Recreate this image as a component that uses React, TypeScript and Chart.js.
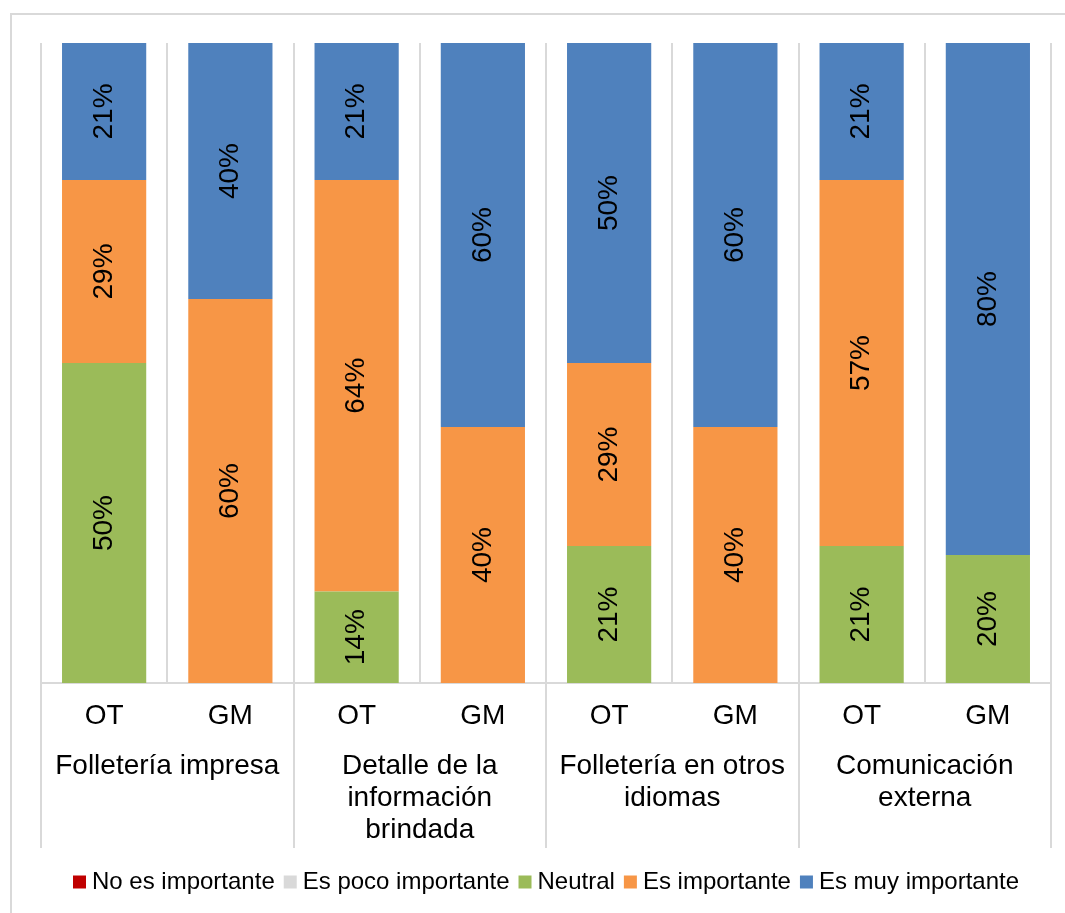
import React, { useEffect, useRef } from 'react';
import { Chart, registerables } from 'chart.js';

Chart.register(...registerables);

// Respondent group under each bar, and the aspect each pair of bars belongs to
const respondents = ['OT', 'GM', 'OT', 'GM', 'OT', 'GM', 'OT', 'GM'];
const aspects = [
  ['Folletería impresa'],
  ['Detalle de la', 'información', 'brindada'],
  ['Folletería en otros', 'idiomas'],
  ['Comunicación', 'externa'],
];

// Share of answers (%) per bar, one array per answer level
const seriesNames = ['No es importante', 'Es poco importante', 'Neutral', 'Es importante', 'Es muy importante'];
const noImportante = [0, 0, 0, 0, 0, 0, 0, 0];
const pocoImportante = [0, 0, 0, 0, 0, 0, 0, 0];
const neutral = [50, 0, 14.3, 0, 21.4, 0, 21.4, 20];
const importante = [28.6, 60, 64.3, 40, 28.6, 40, 57.2, 0];
const muyImportante = [21.4, 40, 21.4, 60, 50, 60, 21.4, 80];
const seriesColors = ['#C00000', '#D9D9D9', '#9BBB59', '#F79646', '#4F81BD'];

const FONT = "'Liberation Sans', Arial, sans-serif";
const LINE = '#D9D9D9';

// Rotated percentage labels in the middle of every non-empty segment
const segmentLabels = {
  id: 'segmentLabels',
  afterDatasetsDraw(chart: any) {
    const ctx = chart.ctx;
    ctx.save();
    ctx.font = `28px ${FONT}`;
    ctx.fillStyle = '#000000';
    ctx.textAlign = 'center';
    ctx.textBaseline = 'middle';
    chart.data.datasets.forEach((ds: any, i: number) => {
      const meta = chart.getDatasetMeta(i);
      if (meta.hidden) return;
      meta.data.forEach((bar: any, j: number) => {
        const v = ds.data[j];
        if (!v) return;
        const { x, y, base } = bar.getProps(['x', 'y', 'base'], true);
        ctx.save();
        ctx.translate(x, (y + base) / 2);
        ctx.rotate(-Math.PI / 2);
        ctx.fillText(`${Math.round(v)}%`, 0, 0);
        ctx.restore();
      });
    });
    ctx.restore();
  },
};

// Vertical separators between the aspect groups below the axis
const groupSeparators = {
  id: 'groupSeparators',
  afterDraw(chart: any) {
    const xs = chart.scales.x;
    const x2 = chart.scales.x2;
    const ctx = chart.ctx;
    ctx.save();
    ctx.strokeStyle = LINE;
    ctx.lineWidth = 2;
    for (let b = 0; b <= respondents.length; b += 2) {
      const px = Math.round(xs.getPixelForValue(b - 0.5));
      ctx.beginPath();
      ctx.moveTo(px, xs.top);
      ctx.lineTo(px, x2.top + 105);
      ctx.stroke();
    }
    ctx.restore();
  },
};

function StackedChart() {
  const ref = useRef<HTMLCanvasElement | null>(null);

  useEffect(() => {
    if (!ref.current) return;
    const values = [noImportante, pocoImportante, neutral, importante, muyImportante];
    const chart = new Chart(ref.current, {
      type: 'bar',
      data: {
        labels: respondents,
        datasets: seriesNames.map((name, i) => ({
          label: name,
          data: values[i],
          backgroundColor: seriesColors[i],
          borderWidth: 0,
          barPercentage: 0.667,
          categoryPercentage: 1,
        })),
      },
      options: {
        responsive: false,
        animation: false,
        events: [],
        layout: { padding: { left: 33, right: 0, top: 35, bottom: 1 } },
        plugins: {
          tooltip: { enabled: false },
          legend: {
            position: 'bottom',
            labels: {
              usePointStyle: true,
              pointStyle: 'rect',
              boxWidth: 1,
              boxHeight: 13,
              padding: 15,
              color: '#000000',
              font: { family: FONT, size: 24 },
            },
          },
        },
        scales: {
          x: {
            stacked: true,
            offset: true,
            grid: { color: LINE, lineWidth: 2, drawTicks: false, offset: true },
            border: { display: true, color: LINE, width: 2 },
            ticks: {
              color: '#000000',
              font: { family: FONT, size: 28, lineHeight: '32px' },
              padding: 17,
              autoSkip: false,
              maxRotation: 0,
              minRotation: 0,
            },
            afterFit: (s: any) => {
              s.height = 60;
            },
          },
          x2: {
            type: 'category',
            labels: aspects as any,
            position: 'bottom',
            offset: true,
            weight: 1,
            grid: { display: false, drawTicks: false },
            border: { display: false },
            ticks: {
              color: '#000000',
              font: { family: FONT, size: 28, lineHeight: '32px' },
              padding: 7,
              autoSkip: false,
              maxRotation: 0,
              minRotation: 0,
            },
            afterFit: (s: any) => {
              s.height = 112;
            },
          },
          y: {
            position: 'right',
            stacked: true,
            min: 0,
            max: 100,
            grid: { display: false, drawTicks: false },
            border: { display: false },
            ticks: { display: false },
            afterFit: (s: any) => {
              s.width = 6;
            },
          },
        },
      } as any,
      plugins: [segmentLabels, groupSeparators],
    });
    return () => chart.destroy();
  }, []);

  return <canvas ref={ref} width={1049} height={897} style={{ display: 'block' }} />;
}

export default function App() {
  return (
    <div style={{ position: 'relative', width: 1049, height: 897 }}>
      <div
        style={{
          position: 'fixed',
          left: 10,
          top: 13,
          width: 1200,
          height: 1100,
          border: `2px solid ${LINE}`,
          pointerEvents: 'none',
        }}
      />
      <StackedChart />
    </div>
  );
}
